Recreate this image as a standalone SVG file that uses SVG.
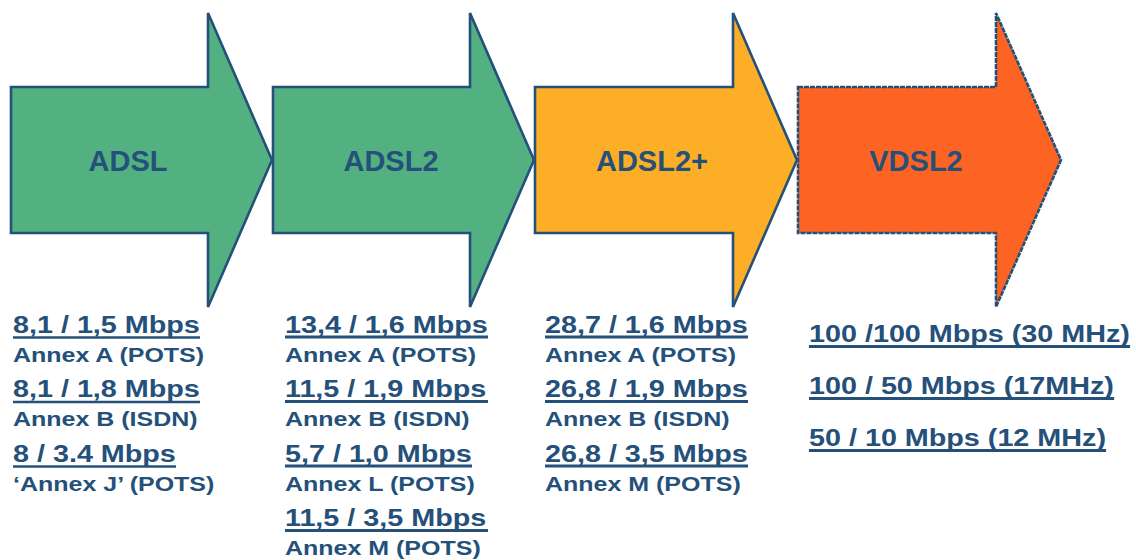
<svg xmlns="http://www.w3.org/2000/svg" width="1136" height="560" viewBox="0 0 1136 560">
<style>
.arrow{stroke:#24507a;stroke-width:2.6;stroke-linejoin:miter}
.green{fill:#53b081}
.amber{fill:#fcae27}
.red{fill:#fd6424}
.dash{stroke-dasharray:5 1}
.head{font-family:"Liberation Sans",Arial,sans-serif;font-weight:bold;font-size:29px;fill:#24507a;text-anchor:middle}
.rate{font-family:"Liberation Sans",Arial,sans-serif;font-weight:bold;font-size:23px;fill:#24507a}
.annex{font-family:"Liberation Sans",Arial,sans-serif;font-weight:bold;font-size:20px;fill:#24507a}
.ul{stroke:#24507a;stroke-width:3.2}
.ul1{stroke:#24507a;stroke-width:2.4}
</style>
<rect width="1136" height="560" fill="#ffffff"/>
<g id="adsl">
<polygon class="arrow green" points="11,87 208,87 208,13 272,160 208,307 208,233 11,233"/>
<text class="head" x="128" y="170.5">ADSL</text>
</g>
<g id="adsl2">
<polygon class="arrow green" points="273,87 470,87 470,13 534,160 470,307 470,233 273,233"/>
<text class="head" x="391" y="170.5">ADSL2</text>
</g>
<g id="adsl2plus">
<polygon class="arrow amber" points="535,87 733,87 733,13 797,160 733,307 733,233 535,233"/>
<text class="head" x="652" y="170.5">ADSL2+</text>
</g>
<g id="vdsl2">
<polygon class="arrow red dash" points="798,87 996,87 996,13 1061,160 996,307 996,233 798,233"/>
<text class="head" x="916" y="170.5">VDSL2</text>
</g>
<g id="adsl-specs" transform="matrix(1.25 0 0 1 13 0)">
<text class="rate" x="0" y="333">8,1 / 1,5 Mbps</text>
<line class="ul1" x1="0" y1="337.5" x2="149.6" y2="337.5"/>
<text class="annex" x="0" y="362">Annex A (POTS)</text>
<text class="rate" x="0" y="397.5">8,1 / 1,8 Mbps</text>
<line class="ul1" x1="0" y1="402" x2="149.6" y2="402"/>
<text class="annex" x="0" y="426.5">Annex B (ISDN)</text>
<text class="rate" x="0" y="462">8 / 3.4 Mbps</text>
<line class="ul1" x1="0" y1="466.5" x2="130.4" y2="466.5"/>
<text class="annex" x="0" y="491">‘Annex J’ (POTS)</text>
</g>
<g id="adsl2-specs" transform="matrix(1.25 0 0 1 285 0)">
<text class="rate" x="0" y="333">13,4 / 1,6 Mbps</text>
<line class="ul" x1="0" y1="337" x2="162.4" y2="337"/>
<text class="annex" x="0" y="362">Annex A (POTS)</text>
<text class="rate" x="0" y="397.5">11,5 / 1,9 Mbps</text>
<line class="ul" x1="0" y1="401.5" x2="162.4" y2="401.5"/>
<text class="annex" x="0" y="426.5">Annex B (ISDN)</text>
<text class="rate" x="0" y="462">5,7 / 1,0 Mbps</text>
<line class="ul" x1="0" y1="466" x2="149.6" y2="466"/>
<text class="annex" x="0" y="491">Annex L (POTS)</text>
<text class="rate" x="0" y="526.5">11,5 / 3,5 Mbps</text>
<line class="ul" x1="0" y1="530.5" x2="162.4" y2="530.5"/>
<text class="annex" x="0" y="555.5">Annex M (POTS)</text>
</g>
<g id="adsl2plus-specs" transform="matrix(1.25 0 0 1 545 0)">
<text class="rate" x="0" y="333">28,7 / 1,6 Mbps</text>
<line class="ul" x1="0" y1="337" x2="162.4" y2="337"/>
<text class="annex" x="0" y="362">Annex A (POTS)</text>
<text class="rate" x="0" y="397.5">26,8 / 1,9 Mbps</text>
<line class="ul" x1="0" y1="401.5" x2="162.4" y2="401.5"/>
<text class="annex" x="0" y="426.5">Annex B (ISDN)</text>
<text class="rate" x="0" y="462">26,8 / 3,5 Mbps</text>
<line class="ul" x1="0" y1="466" x2="162.4" y2="466"/>
<text class="annex" x="0" y="491">Annex M (POTS)</text>
</g>
<g id="vdsl2-specs" transform="matrix(1.25 0 0 1 809 0)">
<text class="rate" x="0" y="342">100 /100 Mbps (30 MHz)</text>
<line class="ul" x1="0" y1="346.5" x2="256.9" y2="346.5"/>
<text class="rate" x="0" y="394">100 / 50 Mbps (17MHz)</text>
<line class="ul" x1="0" y1="398.5" x2="244.1" y2="398.5"/>
<text class="rate" x="0" y="446">50 / 10 Mbps (12 MHz)</text>
<line class="ul" x1="0" y1="450.5" x2="237.7" y2="450.5"/>
</g>
</svg>
